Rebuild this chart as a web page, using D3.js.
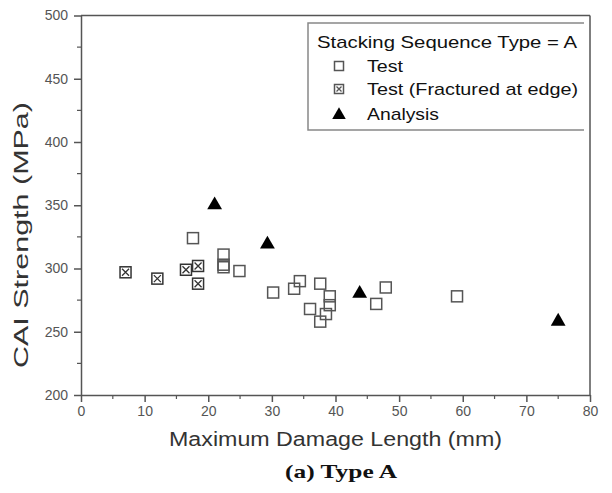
<!DOCTYPE html>
<html><head><meta charset="utf-8">
<script src="https://cdn.jsdelivr.net/npm/d3@7"></script>
<style>body{margin:0;background:#fff}svg{display:block}</style>
</head><body><svg id="c" width="612" height="493"></svg>
<script>
const xTicks = [0,10,20,30,40,50,60,70,80];
const yTicks = [200,250,300,350,400,450,500];
const testX = [17.6,22.4,22.4,22.4,24.9,30.2,33.5,34.4,37.6,39.1,39.1,36.0,38.5,37.6,47.9,46.4,59.1];
const testY = [324,311,303,301,298,281,284,290,288,278,271,268,264,258,285,272,278];
const edgeX = [7.0,12.0,16.5,18.4,18.4];
const edgeY = [297,292,299,302,288];
const anaX = [21,29.3,43.8,75];
const anaY = [351,320,281,259];
const legendLabels = ["Test","Test (Fractured at edge)","Analysis"];

const svg = d3.select("#c");
const L=81,R=590,T=15.5,B=395;
const x = d3.scaleLinear().domain([0,80]).range([L,R]);
const y = d3.scaleLinear().domain([200,500]).range([B,T]);
const axCol="#555";
const font="Arial, 'Liberation Sans', sans-serif";

// minor ticks
const xMinor = d3.range(5,80,10), yMinor = d3.range(225,500,50);
svg.append("g").selectAll("line").data(xMinor).join("line")
  .attr("x1",d=>x(d)).attr("x2",d=>x(d)).attr("y1",B).attr("y2",B+4)
  .attr("stroke",axCol).attr("stroke-width",1.2);
svg.append("g").selectAll("line").data(yMinor).join("line")
  .attr("y1",d=>y(d)).attr("y2",d=>y(d)).attr("x1",L).attr("x2",L-4)
  .attr("stroke",axCol).attr("stroke-width",1.2);

const xa = svg.append("g").attr("transform",`translate(0,${B})`)
  .call(d3.axisBottom(x).tickValues(xTicks).tickSize(7).tickPadding(4).tickSizeOuter(0));
const ya = svg.append("g").attr("transform",`translate(${L},0)`)
  .call(d3.axisLeft(y).tickValues(yTicks).tickSize(7).tickPadding(6).tickSizeOuter(0));
[xa,ya].forEach(a=>{
  a.selectAll("path,line").attr("stroke",axCol).attr("stroke-width",1.5);
  a.selectAll("text").attr("fill","#555").style("font-family",font).style("font-size","14px");
});
// frame top/right
svg.append("line").attr("x1",L).attr("x2",R).attr("y1",T).attr("y2",T).attr("stroke",axCol).attr("stroke-width",1.5);
svg.append("line").attr("x1",R).attr("x2",R).attr("y1",T).attr("y2",B).attr("stroke",axCol).attr("stroke-width",1.5);

// titles
svg.append("text").attr("x",335.5).attr("y",446).attr("text-anchor","middle")
  .attr("textLength",333).attr("lengthAdjust","spacingAndGlyphs")
  .style("font-family",font).style("font-size","20px").attr("fill","#333")
  .text("Maximum Damage Length (mm)");
svg.append("text").attr("transform","translate(28,235) rotate(-90)").attr("text-anchor","middle")
  .attr("textLength",266).attr("lengthAdjust","spacingAndGlyphs")
  .style("font-family",font).style("font-size","20px").attr("fill","#333")
  .text("CAI Strength (MPa)");
svg.append("text").attr("x",341).attr("y",478).attr("text-anchor","middle")
  .attr("textLength",112).attr("lengthAdjust","spacingAndGlyphs")
  .style("font-family","'Liberation Serif', 'Times New Roman', serif").style("font-size","19px")
  .style("font-weight","bold").attr("fill","#111").text("(a) Type A");

// markers
const sq=11;
function drawSquare(g,cx,cy,s,cross,col){
  g.append("rect").attr("x",cx-s/2).attr("y",cy-s/2).attr("width",s).attr("height",s)
   .attr("fill","none").attr("stroke",col).attr("stroke-width",1.5);
  if(cross){
    g.append("path").attr("d",`M${cx-s/2+2},${cy-s/2+2}L${cx+s/2-2},${cy+s/2-2}M${cx+s/2-2},${cy-s/2+2}L${cx-s/2+2},${cy+s/2-2}`)
     .attr("stroke",col).attr("stroke-width",1.3);
  }
}
const gT = svg.append("g");
testX.forEach((v,i)=>drawSquare(gT,x(v),y(testY[i]),sq,false,"#555"));
const gE = svg.append("g");
edgeX.forEach((v,i)=>drawSquare(gE,x(v),y(edgeY[i]),sq,true,"#333"));
const tri = d3.symbol().type(d3.symbolTriangle).size(95);
svg.append("g").selectAll("path").data(anaX).join("path")
  .attr("transform",(d,i)=>`translate(${x(d)},${y(anaY[i])+1})`)
  .attr("d",tri).attr("fill","#000");

// legend
const lg = svg.append("g");
lg.append("path").attr("d","M584,23H308V130H584").attr("fill","none").attr("stroke","#888").attr("stroke-width",1.5);
lg.append("text").attr("x",317).attr("y",48).attr("textLength",260).attr("lengthAdjust","spacingAndGlyphs")
  .style("font-family",font).style("font-size","17px").attr("fill","#111")
  .text("Stacking Sequence Type = A");
const ly=[72,95,120];
const lw=[36,211,72];
legendLabels.forEach((t,i)=>{
  lg.append("text").attr("x",367).attr("y",ly[i]).attr("textLength",lw[i]).attr("lengthAdjust","spacingAndGlyphs")
    .style("font-family",font).style("font-size","17px").attr("fill","#111").text(t);
});
drawSquare(lg,339,ly[0]-6,9,false,"#555");
drawSquare(lg,339,ly[1]-6,9,true,"#555");
lg.append("path").attr("transform",`translate(339,${ly[2]-5})`).attr("d",d3.symbol().type(d3.symbolTriangle).size(80)).attr("fill","#000");
</script></body></html>
